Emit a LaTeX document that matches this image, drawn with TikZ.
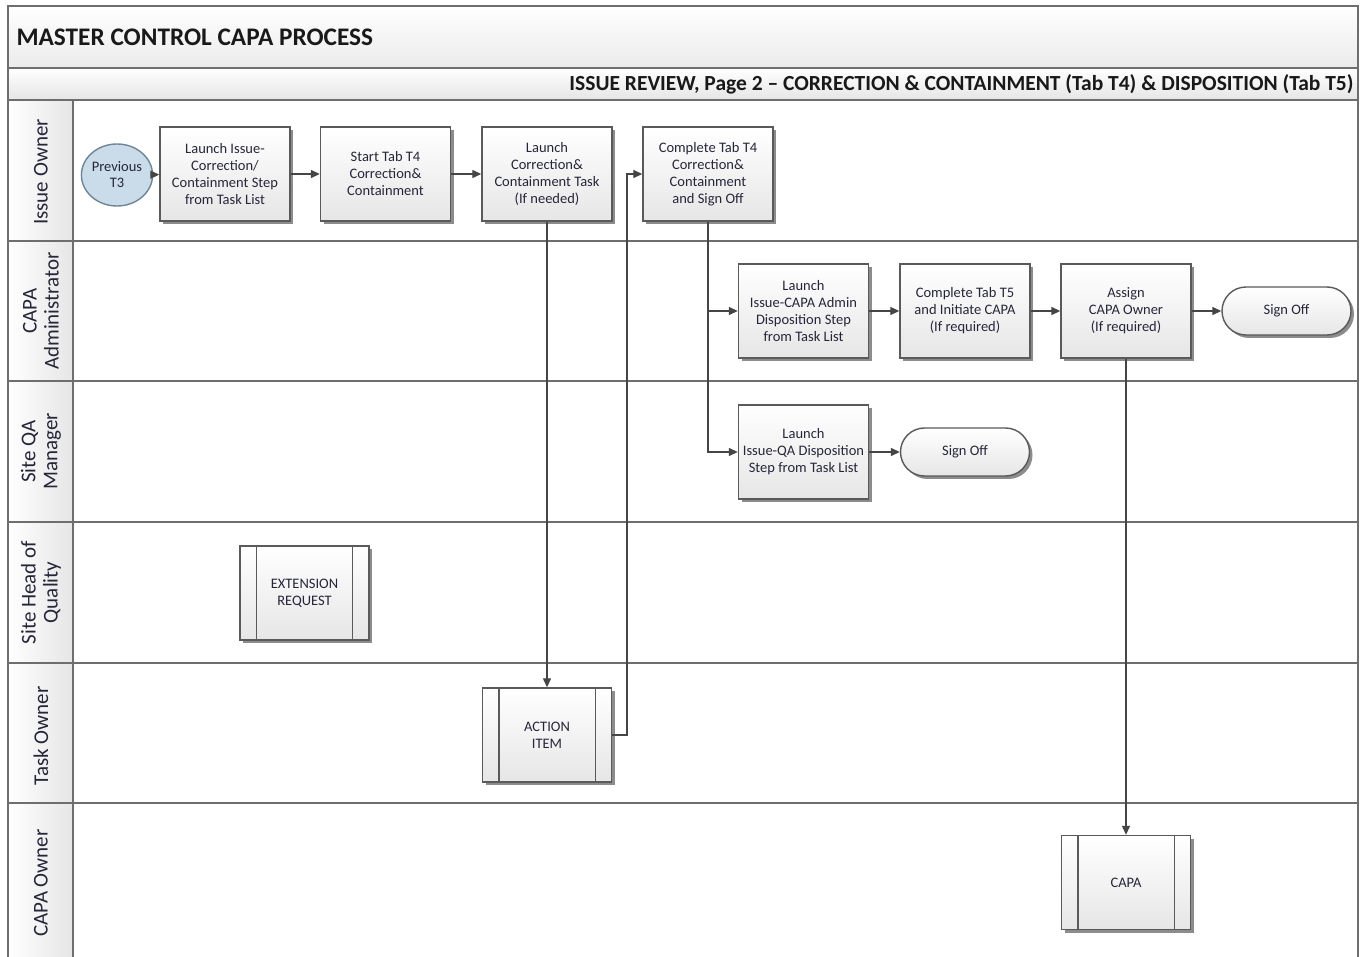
\documentclass[tikz,border=0pt]{standalone}
\usepackage{fontspec}
\setmainfont{Carlito}
\usetikzlibrary{arrows.meta,shadows,shapes.geometric,calc}
\definecolor{frame}{HTML}{6E6E6E}
\definecolor{edge}{HTML}{5A5A5A}
\definecolor{conn}{HTML}{454545}
\definecolor{txt}{HTML}{26263A}
\definecolor{boxbot}{HTML}{E6E6E6}
\definecolor{bluefill}{HTML}{CADCEA}
\definecolor{blueedge}{HTML}{6F8596}
\tikzset{
  boxbase/.style={draw=edge, line width=1.4pt, top color=white, bottom color=boxbot,
    align=center, text=txt, font=\fontsize{14.5}{17}\selectfont, inner sep=1pt,
    drop shadow={shadow xshift=3pt, shadow yshift=-3pt, fill=black!50, opacity=0.9}},
  procbox/.style={boxbase, rectangle, minimum width=130pt, minimum height=94pt},
  subbox/.style={boxbase, rectangle, minimum width=129pt, minimum height=94pt},
  endbox/.style={boxbase, rectangle, rounded corners=24pt, minimum width=129pt, minimum height=48pt},
  startcirc/.style={draw=blueedge, line width=1.4pt, fill=bluefill, ellipse, minimum width=66pt,
    minimum height=62pt, inner sep=0pt, align=center, text=txt, font=\fontsize{14.5}{16}\selectfont},
  flow/.style={draw=conn, line width=1.3pt, -{Triangle[length=9pt,width=8pt]}},
  lanelbl/.style={rotate=90, align=center, text=txt, font=\fontsize{21}{22}\selectfont},
  framel/.style={draw=frame, line width=1.6pt}
}
\newcommand{\subproc}[1]{%
  \draw[draw=edge, line width=1.4pt] ([xshift=17pt]#1.north west) -- ([xshift=17pt]#1.south west);
  \draw[draw=edge, line width=1.4pt] ([xshift=-17pt]#1.north east) -- ([xshift=-17pt]#1.south east);}
\begin{document}
\begin{tikzpicture}[x=1pt,y=-1pt]
\useasboundingbox (0,0) rectangle (1361,957);
\fill[white] (0,0) rectangle (1361,957);
% header
\shade[top color=white, bottom color=black!8] (8,6) rectangle (1358,68);
\shade[top color=white, bottom color=black!10] (8,68) rectangle (1358,100);
\shade[left color=white, right color=black!10] (8,100) rectangle (73,960);
\draw[framel] (8,960) -- (8,6) -- (1358,6) -- (1358,960);
\draw[framel] (8,68) -- (1358,68);
\draw[framel] (8,100) -- (1358,100);
\draw[framel] (73,100) -- (73,960);
\foreach \yy in {241,381,522,663,803} \draw[framel] (8,\yy) -- (1358,\yy);
\node[anchor=west, font=\bfseries\fontsize{25.3}{27}\selectfont, text=black!90] (title) at (13,37) {MASTER CONTROL CAPA PROCESS};
\node[anchor=east, font=\bfseries\fontsize{21.5}{23}\selectfont, text=black!90] (subtitle) at (1357,84) {ISSUE REVIEW, Page 2 -- CORRECTION \& CONTAINMENT (Tab T4) \& DISPOSITION (Tab T5)};
% lane labels
\node[lanelbl] (l1) at (41,172) {Issue Owner};
\node[lanelbl] (l2) at (41,311) {CAPA\\Administrator};
\node[lanelbl] (l3) at (41,451.5) {Site QA\\Manager};
\node[lanelbl] (l4) at (41,592.5) {Site Head of\\Quality};
\node[lanelbl] (l5) at (41,736) {Task Owner};
\node[lanelbl] (l6) at (41,883) {CAPA Owner};
% nodes
\node[startcirc] (prev) at (117,175) {Previous\\T3};
\node[procbox] (b1) at (225,174) {Launch Issue-\\Correction/\\Containment Step\\from Task List};
\node[procbox] (b2) at (385.5,174) {Start Tab T4\\Correction\&\\Containment};
\node[procbox] (b3) at (547,174) {Launch\\Correction\&\\Containment Task\\(If needed)};
\node[procbox] (b4) at (708,174) {Complete Tab T4\\Correction\&\\Containment\\and Sign Off};
\node[procbox] (b5) at (803.5,311) {Launch\\Issue-CAPA Admin\\Disposition Step\\from Task List};
\node[procbox] (b6) at (965,311) {Complete Tab T5\\and Initiate CAPA\\(If required)};
\node[procbox] (b7) at (1126,311) {Assign\\CAPA Owner\\(If required)};
\node[endbox] (so1) at (1286.5,311) {Sign Off};
\node[procbox] (b8) at (803.5,452) {Launch\\Issue-QA Disposition\\Step from Task List};
\node[endbox] (so2) at (965,452) {Sign Off};
\node[subbox] (ext) at (304.5,593) {EXTENSION\\REQUEST};
\subproc{ext}
\node[subbox] (ai) at (547,735) {ACTION\\ITEM};
\subproc{ai}
\node[subbox] (capa) at (1126,882.5) {CAPA};
\subproc{capa}
% connectors
\draw[flow] (prev) -- (b1);
\draw[flow] (b1) -- (b2);
\draw[flow] (b2) -- (b3);
\draw[flow] (b3.south) -- (ai.north);
\coordinate (up) at (627,735);
\draw[flow] (ai.east) -- (up) |- (b4.west);
\coordinate (split) at (708,311);
\draw[flow] (b4.south) |- (b8.west);
\draw[flow] (split) -- (b5.west);
\draw[flow] (b5) -- (b6);
\draw[flow] (b6) -- (b7);
\draw[flow] (b7) -- (so1);
\draw[flow] (b8) -- (so2);
\draw[flow] (b7.south) -- (capa.north);
\end{tikzpicture}
\end{document}
